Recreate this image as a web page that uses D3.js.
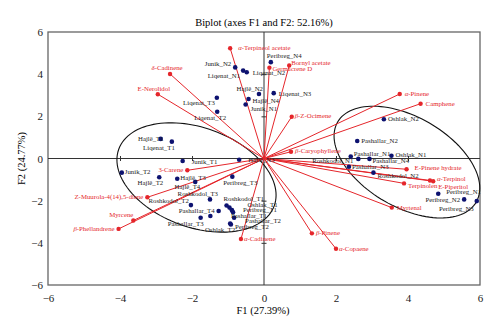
<!DOCTYPE html>
<html>
<head>
<meta charset="utf-8">
<script src="https://cdn.jsdelivr.net/npm/d3@7"></script>
<style>
  body { margin: 0; background: #fff; }
  text { font-family: 'Liberation Serif', 'DejaVu Serif', serif; }
</style>
</head>
<body>
<div id="chart"></div>
<script>
// observations (blue)
const obsNames = [
  'Junik_N2', 'Liqenat_N1', 'Liqenat_N2', 'Peribreg_N4', 'Hajlë_N2', 'Hajlë_N4', 'Junik_N1', 'Liqenat_N3',
  'Liqenat_T3', 'Liqenat_T2', 'Hajlë_T1', 'Liqenat_T1', 'Junik_T1', 'Junik_T2', 'Hajlë_T2', 'Hajlë_T3',
  'Hajlë_T4', 'Roshkodol_T3', 'Roshkodol_T2', 'Pashallar_T4', 'Pashallar_T3', 'Oshlak_T3', 'Roshkodol_T1',
  'Oshlak_T1', 'Peribreg_T1', 'Pashallar_T1', 'Pashallar_T2', 'Peribreg_T2', 'Oshlak_T2', 'Peribreg_T3',
  'Hajlë_N3', 'Oshlak_N2', 'Pashallar_N2', 'Pashallar_N1', 'Oshlak_N1', 'Roshkodol_N1', 'Pashallar_N4',
  'Pashallar_N3', 'Roshkodol_N2', 'Peribreg_N1', 'Peribreg_N2', 'Peribreg_N3'
]
const obsF1 = [
  -0.80, -0.58, -0.48, 0.19, -0.14, -0.43, -0.51, 0.27,
  -1.31, -1.30, -2.87, -2.56, -2.26, -3.95, -2.91, -2.41,
  -1.91, -1.50, -2.03, -1.26, -1.76, -1.49, -1.04,
  -0.96, -0.89, -0.86, -0.83, -0.92, -0.94, -0.88,
  -0.69, 3.33, 2.59, 2.41, 3.54, 2.62, 2.93,
  2.36, 3.04, 4.84, 5.56, 5.91
]
const obsF2 = [
  4.32, 4.17, 4.09, 4.57, 3.06, 2.82, 2.56, 3.10,
  2.88, 2.22, 0.93, 0.80, -0.12, -0.67, -0.89, -0.96,
  -1.11, -1.94, -2.21, -2.49, -2.81, -2.73, -2.23,
  -2.33, -2.45, -2.55, -2.81, -3.13, -3.08, -0.86,
  -0.06, 1.86, 0.83, 0.09, 0.13, -0.02, -0.02,
  -0.39, -0.67, -1.67, -1.94, -2.02
]

// variables (red vectors)
const varNames = [
  'α-Terpineol acetate', 'δ-Cadinene', 'E-Nerolidol', 'Germacrene D', 'Bornyl acetate', 'α-Pinene',
  'Camphene', 'β-Z-Ocimene', 'β-Caryophyllene', '3-Carene', 'Z-Muurola-4(14),5-diene', 'Myrcene',
  'β-Phellandrene', 'α-Cadinene', 'β-Pinene', 'α-Copaene', 'Myrtenal', 'E-Pinene hydrate',
  'α-Terpinol', 'E-Piperitol', 'Terpinolen'
]
const varF1 = [
  -0.94, -2.61, -2.95, 0.15, 0.70, 3.77,
  4.35, 0.77, 0.75, -2.13, -3.24, -3.63,
  -4.04, -0.64, 1.33, 2.00, 3.55, 3.96,
  4.61, 4.70, 3.89
]
const varF2 = [
  5.23, 4.01, 3.05, 4.31, 4.41, 3.06,
  2.60, 1.98, 0.32, -0.56, -1.84, -2.94,
  -3.34, -3.82, -3.55, -4.28, -2.33, -0.51,
  -1.04, -1.08, -1.18
]

// group ellipses: centre and two half-axis vectors, in F1/F2 units
const ellipseCenters = [[-1.875, -0.90], [3.97, -0.17]]
const ellipseAxisA = [[2.16, -1.34], [1.925, -1.898]]
const ellipseAxisB = [[-0.47, -2.22], [-0.625, -1.85]]

const tickValues = [-6, -4, -2, 0, 2, 4, 6]

// label placement [anchor, dx, dy]
const obsLabelPos = {
  'Junik_N2': ['end', -4, -1], 'Liqenat_N1': ['end', -3, 7], 'Liqenat_N2': ['start', 6, 3],
  'Peribreg_N4': ['start', -4, -4], 'Hajlë_N2': ['end', 4, -3], 'Hajlë_N4': ['start', 4, 3.5],
  'Junik_N1': ['start', 5, 6], 'Liqenat_N3': ['start', 5, 2.5], 'Liqenat_T3': ['end', -2, 7],
  'Liqenat_T2': ['middle', -7, 8], 'Hajlë_T1': ['end', 3, 2.5], 'Liqenat_T1': ['end', 3, 8],
  'Junik_T1': ['start', 9, 3], 'Junik_T2': ['start', 3, 1.5], 'Hajlë_T2': ['end', 4, 8],
  'Hajlë_T3': ['start', 3, 1], 'Hajlë_T4': ['end', 5, 7], 'Roshkodol_T3': ['end', 8, -3],
  'Roshkodol_T2': ['end', -2, -2], 'Pashallar_T4': ['end', -4, 2], 'Pashallar_T3': ['end', 3, 8],
  'Roshkodol_T1': ['start', -3, -5], 'Oshlak_T1': ['start', 18, -1], 'Peribreg_T1': ['start', 11, 2],
  'Pashallar_T1': ['start', -2, 6], 'Pashallar_T2': ['start', 11, 5.5], 'Peribreg_T2': ['start', 4, 4.5],
  'Oshlak_T2': ['end', 5, 9], 'Peribreg_T3': ['start', -9, 8], 'Hajlë_N3': ['start', 9, 2],
  'Oshlak_N2': ['start', 4, 2], 'Pashallar_N2': ['start', 4, 2], 'Pashallar_N1': ['start', 3, -1],
  'Oshlak_N1': ['start', 4, 1], 'Roshkodol_N1': ['end', -5, 4], 'Pashallar_N4': ['start', 3, 4],
  'Pashallar_N3': ['start', 3, 2], 'Roshkodol_N2': ['start', 4, 5], 'Peribreg_N1': ['start', 8, 0],
  'Peribreg_N2': ['end', -4, 3], 'Peribreg_N3': ['end', -3, 10]
}
const varLabelPos = {
  'α-Terpineol acetate': ['start', 8, 2], 'δ-Cadinene': ['middle', -3, -4], 'E-Nerolidol': ['middle', -4, -3],
  'Germacrene D': ['start', 3, 3.5], 'Bornyl acetate': ['start', 2, -1], 'α-Pinene': ['start', 5, 2],
  'Camphene': ['start', 5, 2], 'β-Z-Ocimene': ['start', 3, 1], 'β-Caryophyllene': ['start', 4, 1],
  '3-Carene': ['end', -4, 2], 'Z-Muurola-4(14),5-diene': ['end', -4, 2], 'Myrcene': ['end', 0, -3],
  'β-Phellandrene': ['end', -4, 2], 'α-Cadinene': ['start', 3, 2], 'β-Pinene': ['start', 4, 2],
  'α-Copaene': ['start', 3, 2], 'Myrtenal': ['start', 5, 2], 'E-Pinene hydrate': ['start', 8, 1],
  'α-Terpinol': ['start', 7, 0.5], 'E-Piperitol': ['start', 5, 7.5], 'Terpinolen': ['start', 4, 5]
}

const margin = { top: 32, left: 48, right: 20, bottom: 48 }
const width = 500 - margin.left - margin.right
const height = 333 - margin.top - margin.bottom

const red = '#e5262b'
const navy = '#0d1270'

const svg = d3
  .select('#chart')
  .append('svg')
  .attr('width', 500)
  .attr('height', 333)

const g = svg
  .append('g')
  .attr('transform', 'translate(' + margin.left + ',' + margin.top + ')')

const x = d3.scaleLinear().domain([-6, 6]).range([0, width])
const y = d3.scaleLinear().domain([-6, 6]).range([height, 0])

// title + axis titles
svg
  .append('text')
  .attr('x', margin.left + x(0))
  .attr('y', 26)
  .attr('text-anchor', 'middle')
  .attr('font-size', 10.5)
  .text('Biplot (axes F1 and F2: 52.16%)')

svg
  .append('text')
  .attr('x', margin.left + x(0) - 1)
  .attr('y', 314)
  .attr('text-anchor', 'middle')
  .attr('font-size', 10.5)
  .text('F1 (27.39%)')

svg
  .append('text')
  .attr('transform', 'translate(25,' + (margin.top + y(0)) + ') rotate(-90)')
  .attr('text-anchor', 'middle')
  .attr('font-size', 10.5)
  .text('F2 (24.77%)')

// tick labels (no tick marks on the frame)
const xAxis = d3.axisBottom(x).tickValues(tickValues).tickSize(0).tickPadding(9)
g.append('g')
  .attr('class', 'axis x-axis')
  .attr('transform', 'translate(0,' + height + ')')
  .call(xAxis)
const yAxis = d3.axisLeft(y).tickValues(tickValues).tickSize(0).tickPadding(5)
g.append('g').attr('class', 'axis y-axis').call(yAxis)

g.selectAll('.axis .domain').remove()
g.selectAll('.axis text')
  .attr('font-family', "'Liberation Serif', serif")
  .attr('font-size', 11)
  .attr('fill', '#222')

// frame
g.append('rect')
  .attr('x', 0)
  .attr('y', 0)
  .attr('width', width)
  .attr('height', height)
  .attr('fill', 'none')
  .attr('stroke', '#666')
  .attr('stroke-width', 1.3)

// zero lines with small cross ticks
const zeroX = d3.axisBottom(x).tickValues([-4, -2, 2, 4]).tickSize(2.5).tickFormat('')
g.append('g')
  .attr('transform', 'translate(0,' + y(0) + ')')
  .call(zeroX)
  .call(s => s.selectAll('.tick line').attr('y1', -2.5).attr('stroke', '#333'))
  .call(s => s.select('.domain').attr('d', 'M0,0H' + width).attr('stroke', '#333'))
const zeroY = d3.axisLeft(y).tickValues([-4, -2, 2, 4]).tickSize(2.5).tickFormat('')
g.append('g')
  .attr('transform', 'translate(' + x(0) + ',0)')
  .call(zeroY)
  .call(s => s.selectAll('.tick line').attr('x1', 2.5).attr('stroke', '#333'))
  .call(s => s.select('.domain').attr('d', 'M0,0V' + height).attr('stroke', '#333'))

// ellipses
const ellipseLine = d3
  .line()
  .x(d => x(d[0]))
  .y(d => y(d[1]))
  .curve(d3.curveLinearClosed)
ellipseCenters.forEach((c, i) => {
  const pts = d3.range(120).map(k => {
    const t = (k / 120) * Math.PI * 2
    return [
      c[0] + Math.cos(t) * ellipseAxisA[i][0] + Math.sin(t) * ellipseAxisB[i][0],
      c[1] + Math.cos(t) * ellipseAxisA[i][1] + Math.sin(t) * ellipseAxisB[i][1]
    ]
  })
  g.append('path')
    .attr('d', ellipseLine(pts))
    .attr('fill', 'none')
    .attr('stroke', '#111')
    .attr('stroke-width', 1.1)
})

const vars = varNames.map((n, i) => ({ name: n, f1: varF1[i], f2: varF2[i] }))
const obs = obsNames.map((n, i) => ({ name: n, f1: obsF1[i], f2: obsF2[i] }))

// vectors
g.selectAll('.vec')
  .data(vars)
  .enter()
  .append('line')
  .attr('class', 'vec')
  .attr('x1', x(0))
  .attr('y1', y(0))
  .attr('x2', d => x(d.f1))
  .attr('y2', d => y(d.f2))
  .attr('stroke', red)
  .attr('stroke-width', 1)

g.selectAll('.vdot')
  .data(vars)
  .enter()
  .append('circle')
  .attr('class', 'vdot')
  .attr('cx', d => x(d.f1))
  .attr('cy', d => y(d.f2))
  .attr('r', 2.2)
  .attr('fill', red)

g.selectAll('.odot')
  .data(obs)
  .enter()
  .append('circle')
  .attr('class', 'odot')
  .attr('cx', d => x(d.f1))
  .attr('cy', d => y(d.f2))
  .attr('r', 2.3)
  .attr('fill', navy)

// labels
function addLabel(d, pos, colour) {
  if (!pos) return
  const t = g
    .append('text')
    .attr('x', x(d.f1) + pos[1])
    .attr('y', y(d.f2) + pos[2])
    .attr('text-anchor', pos[0])
    .attr('font-size', 6.8)
    .attr('fill', colour)
  const first = d.name[0]
  if ('αβδ'.includes(first)) {
    t.append('tspan').attr('font-style', 'italic').text(first)
    t.append('tspan').text(d.name.slice(1))
  } else {
    t.text(d.name)
  }
}
obs.forEach(d => addLabel(d, obsLabelPos[d.name], '#222'))
vars.forEach(d => addLabel(d, varLabelPos[d.name], red))
</script>
</body>
</html>
